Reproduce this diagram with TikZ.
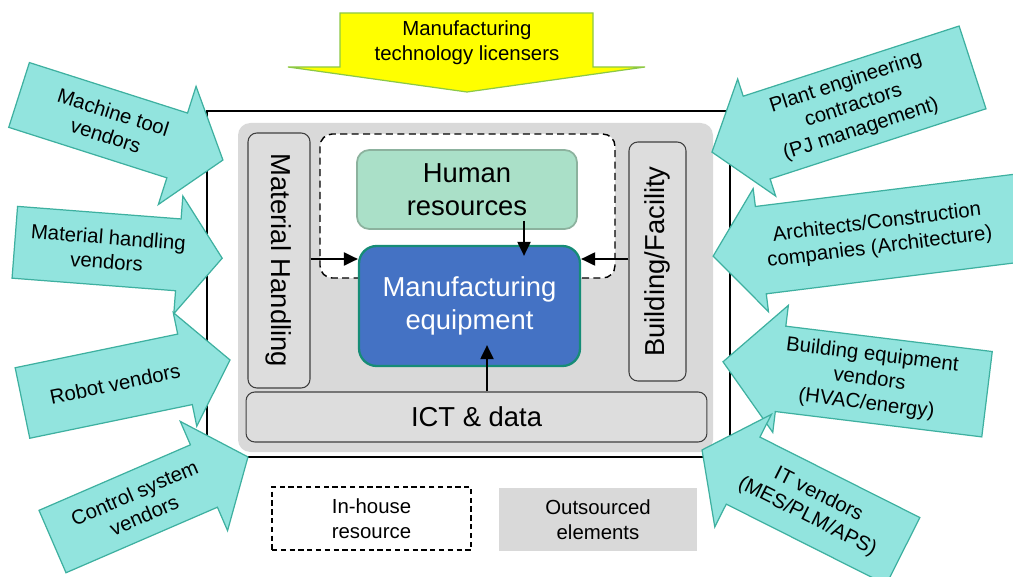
\documentclass[tikz,border=0pt]{standalone}
\usepackage{fontspec}
\setmainfont{Liberation Sans}
\usetikzlibrary{arrows.meta,calc}

\definecolor{vendorfill}{RGB}{146,228,222}
\definecolor{vendorline}{RGB}{62,176,160}
\definecolor{licfill}{RGB}{255,255,0}
\definecolor{licline}{RGB}{140,200,70}
\definecolor{outgray}{RGB}{217,217,217}
\definecolor{boxgray}{RGB}{221,221,221}
\definecolor{humanfill}{RGB}{170,224,200}
\definecolor{humanline}{RGB}{140,178,158}
\definecolor{equipfill}{RGB}{68,114,196}
\definecolor{equipline}{RGB}{22,140,118}

\newcommand{\vendorarrow}[8]{%
  \begin{scope}[shift={#2},rotate=#3]
    \draw[vendor] ({-0.5*(#4)},{-0.5*(#5)}) -- ({0.5*(#4)-(#7)},{-0.5*(#5)}) -- ({0.5*(#4)-(#7)},{-0.5*(#6)}) -- ({0.5*(#4)},0) -- ({0.5*(#4)-(#7)},{0.5*(#6)}) -- ({0.5*(#4)-(#7)},{0.5*(#5)}) -- ({-0.5*(#4)},{0.5*(#5)}) -- cycle;
    \node[vtext,rotate=#3] (#1) at ({-0.25*(#7)},0) {#8};
  \end{scope}}

\begin{document}
\begin{tikzpicture}[x=0.02cm,y=-0.02cm,
    vendor/.style={draw=vendorline,fill=vendorfill,line width=0.7pt},
    vtext/.style={font=\fontsize{11.6}{14}\selectfont,align=center},
    big/.style={font=\fontsize{15.6}{19}\selectfont,align=center},
    part/.style={big,draw=black!75,fill=boxgray,rounded corners=5pt,line width=0.6pt,inner sep=0pt},
    link/.style={line width=1pt,-{Triangle[length=8pt,width=7.5pt]}}]
    \useasboundingbox (0,0) rectangle (1013,577);

    \draw[line width=0.9pt] (207,111) rectangle (730,457);
    \fill[outgray,rounded corners=7pt] (238,123) rectangle (713,452);

    \node[part,rotate=-90,minimum width=5.1cm,minimum height=1.24cm] (mhand) at (279,260.5) {Material Handling};
    \node[part,rotate=90,minimum width=4.78cm,minimum height=1.14cm] (bldg) at (657.5,261.5) {Building/Facility};
    \node[part,minimum width=9.22cm,minimum height=1cm] (ict) at (476.5,417) {ICT \& data};

    \draw[fill=white,rounded corners=7pt,line width=0.8pt,dash pattern=on 4pt off 2.5pt] (320,134) rectangle (615,278);

    \node[big,draw=humanline,fill=humanfill,rounded corners=7pt,line width=1pt,minimum width=4.4cm,minimum height=1.58cm,inner sep=0pt] (human) at (467,189.5) {Human\\resources};
    \node[big,text=white,draw=equipline,fill=equipfill,rounded corners=10pt,line width=1.3pt,minimum width=4.42cm,minimum height=2.4cm,inner sep=0pt] (equip) at (469.5,306) {Manufacturing\\equipment};

    \coordinate (side) at (0,259);
    \coordinate (hx) at (524,0);
    \coordinate (ix) at (487,0);
    \draw[link] (mhand.north |- side) -- (equip.west |- side);
    \draw[link] (bldg.north |- side) -- (equip.east |- side);
    \draw[link] ($(human.south -| hx)+(0,-9)$) -- ($(equip.north -| hx)+(0,11)$);
    \draw[link] (ict.north -| ix) -- ($(equip.south -| ix)+(0,-22)$);

    \node[vtext,draw,line width=0.7pt,dash pattern=on 3pt off 2pt,minimum width=3.98cm,minimum height=1.26cm] (inhouse) at (371.5,518.5) {In-house\\resource};
    \node[vtext,fill=outgray,minimum width=3.96cm,minimum height=1.26cm] (outsrc) at (598,519.5) {Outsourced\\elements};

    \draw[fill=licfill,draw=licline,line width=0.7pt] (340,13) -- (593,13) -- (593,67) -- (645,67) -- (467,92) -- (288,67) -- (340,67) -- cycle;
    \node[vtext] (licensor) at (467,43) {Manufacturing\\technology licensers};

    \vendorarrow{mtool}{(121,127.5)}{-17.7}{214}{68}{124}{48}{Machine tool\\vendors}
    \vendorarrow{mhvend}{(118.5,250.25)}{-4.4}{208}{72}{118}{44}{Material handling\\vendors}
    \vendorarrow{robot}{(126.25,381.5)}{11.7}{212}{72}{116}{46}{Robot vendors}
    \vendorarrow{ctrl}{(150.25,499.25)}{23.4}{213}{68}{119}{48}{Control system\\vendors}
    \vendorarrow{plant}{(842.25,109.75)}{18}{-274}{87}{123}{-47}{Plant engineering\\contractors\\(PJ management)}
    \vendorarrow{arch}{(866.5,237)}{7.1}{-309}{88}{124}{-48}{Architects/Construction\\companies (Architecture)}
    \vendorarrow{bequip}{(855,378)}{-7}{-266}{86}{128}{-58}{Building equipment\\vendors\\(HVAC/energy)}
    \vendorarrow{itvend}{(802.5,500.5)}{-26.7}{-225}{75}{126}{-46}{IT vendors\\(MES/PLM/APS)}
\end{tikzpicture}
\end{document}
